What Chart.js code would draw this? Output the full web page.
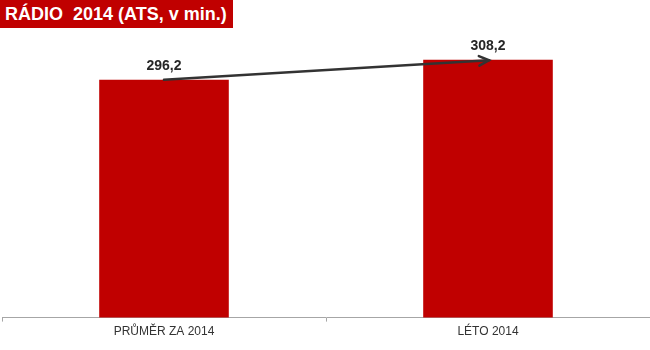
<!DOCTYPE html>
<html>
<head>
<meta charset="utf-8">
<script src="https://cdn.jsdelivr.net/npm/chart.js@4"></script>
<style>
  html, body { margin: 0; padding: 0; background: #fff; }
  #wrap { position: relative; width: 650px; height: 350px; }
  #title { position: absolute; left: 0; top: 0; width: 233px; height: 28px; background: #C00000;
           color: #fff; font: bold 18px "Liberation Sans", Arial, sans-serif; line-height: 29px;
           padding-left: 5px; box-sizing: border-box; white-space: pre; z-index: 2; overflow: hidden; }
</style>
</head>
<body>
<div id="wrap">
  <div id="title">RÁDIO  2014 (ATS, v min.)</div>
  <canvas id="c" width="650" height="350"></canvas>
</div>
<script>
const categories = ["PRŮMĚR ZA 2014", "LÉTO 2014"];
const values = [296.2, 308.2];
const valueLabels = ["296,2", "308,2"];

const overlay = {
  id: 'overlay',
  afterDatasetsDraw(chart) {
    const ctx = chart.ctx;
    const xs = chart.scales.x, ys = chart.scales.y;
    ctx.save();
    ctx.font = 'bold 14px "Liberation Sans", Arial, sans-serif';
    ctx.fillStyle = '#262626';
    ctx.textAlign = 'center';
    ctx.textBaseline = 'middle';
    values.forEach((v, i) => {
      ctx.fillText(valueLabels[i], xs.getPixelForValue(i), ys.getPixelForValue(v) - 14);
    });
    // arrow
    const x1 = xs.getPixelForValue(0), y1 = ys.getPixelForValue(values[0]);
    const x2 = xs.getPixelForValue(1) + 1, y2 = ys.getPixelForValue(values[1]) + 0.5;
    ctx.strokeStyle = '#333333';
    ctx.lineWidth = 2.5;
    ctx.lineCap = 'round';
    ctx.beginPath();
    ctx.moveTo(x1, y1);
    ctx.lineTo(x2, y2);
    ctx.stroke();
    const ang = Math.atan2(y2 - y1, x2 - x1);
    const L = 11, a = 0.45;
    ctx.beginPath();
    ctx.moveTo(x2 - L * Math.cos(ang - a), y2 - L * Math.sin(ang - a));
    ctx.lineTo(x2, y2);
    ctx.lineTo(x2 - L * Math.cos(ang + a), y2 - L * Math.sin(ang + a));
    ctx.stroke();
    ctx.restore();
  }
};

new Chart(document.getElementById('c'), {
  type: 'bar',
  data: {
    labels: categories,
    datasets: [{ data: values, backgroundColor: '#C00000', barPercentage: 0.4, categoryPercentage: 1 }]
  },
  options: {
    responsive: false,
    animation: false,
    layout: { padding: { left: 2, right: 0, top: 30, bottom: 8 } },
    plugins: { legend: { display: false }, tooltip: { enabled: false }, title: { display: false } },
    scales: {
      x: {
        grid: { display: true, drawOnChartArea: false, offset: true, tickLength: 4, color: '#a6a6a6' },
        border: { display: true, color: '#a6a6a6', width: 1 },
        ticks: { color: '#333333', font: { family: '"Liberation Sans", Arial, sans-serif', size: 12 }, padding: 3 }
      },
      y: { display: false, min: 154, max: 326 }
    }
  },
  plugins: [overlay]
});
</script>
</body>
</html>
